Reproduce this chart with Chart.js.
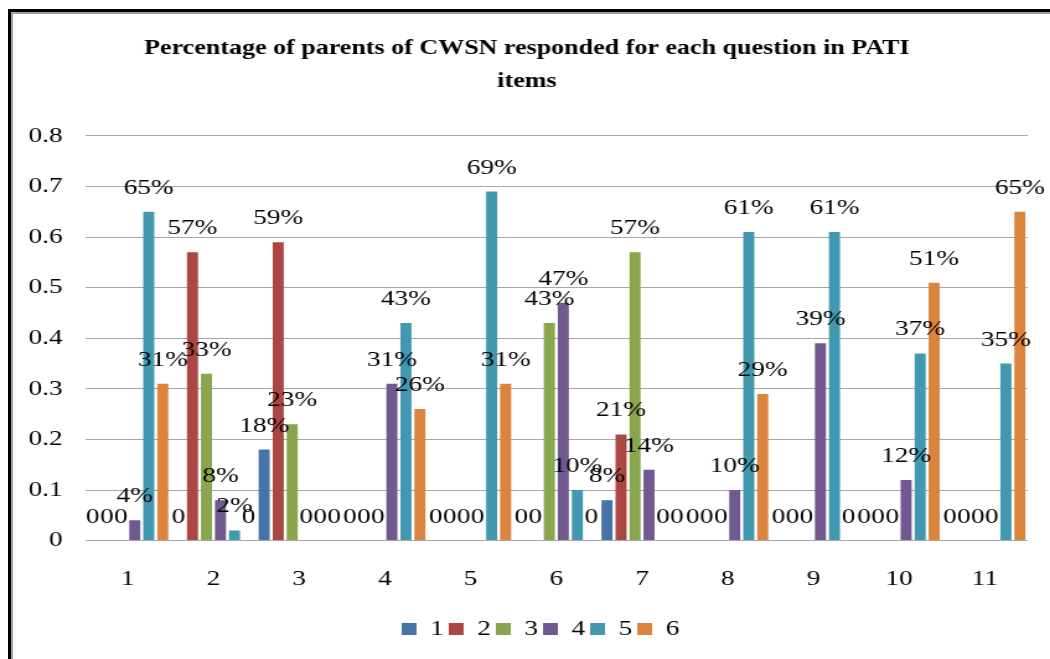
<!DOCTYPE html>
<html>
<head>
<meta charset="utf-8">
<script src="https://cdn.jsdelivr.net/npm/chart.js@4/dist/chart.umd.min.js"></script>
<style>
  html, body { margin: 0; background: #fff; overflow: hidden; }
  #frame { position: absolute; left: 8px; top: 9px; width: 1100px; height: 700px;
           border-top: 3px solid #000; border-left: 3px solid #000; }
  #frame div { width: 100%; height: 100%; box-sizing: border-box;
               border-top: 2px solid #a0a0a0; border-left: 2px solid #a0a0a0; }
  #wrap { position: absolute; left: 0; top: 0; width: 847px; height: 659px;
          transform: scaleX(1.2397); transform-origin: 0 0; }
</style>
</head>
<body>
<div id="frame"><div></div></div>
<div id="wrap"><canvas id="chart"></canvas></div>
<script>
// questions (PATI items) on the x axis
let categories = ["1", "2", "3", "4", "5", "6", "7", "8", "9", "10", "11"]

let option1 = [0, 0, 0.18, 0, 0, 0, 0.08, 0, 0, 0, 0]
let option2 = [0, 0.57, 0.59, 0, 0, 0, 0.21, 0, 0, 0, 0]
let option3 = [0, 0.33, 0.23, 0, 0, 0.43, 0.57, 0, 0, 0, 0]
let option4 = [0.04, 0.08, 0, 0.31, 0, 0.47, 0.14, 0.10, 0.39, 0.12, 0]
let option5 = [0.65, 0.02, 0, 0.43, 0.69, 0.10, 0, 0.61, 0.61, 0.37, 0.35]
let option6 = [0.31, 0, 0, 0.26, 0.31, 0, 0, 0.29, 0, 0.51, 0.65]

let seriesNames = ["1", "2", "3", "4", "5", "6"]
let colors = ["#4572A7", "#AA4643", "#89A54E", "#71588F", "#4198AF", "#DB843D"]
let yTickLabels = ["0", "0.1", "0.2", "0.3", "0.4", "0.5", "0.6", "0.7", "0.8"]

let serif = "'Liberation Serif', 'Times New Roman', serif"

// value labels above every bar ("0" for empty ones)
let barLabels = {
    id: "barLabels",
    afterDatasetsDraw(chart) {
        let ctx = chart.ctx
        ctx.save()
        ctx.font = "22px " + serif
        ctx.fillStyle = "#000"
        ctx.textAlign = "center"
        ctx.textBaseline = "alphabetic"
        chart.data.datasets.forEach((ds, i) => {
            chart.getDatasetMeta(i).data.forEach((bar, j) => {
                let v = ds.data[j]
                let txt = v === 0 ? "0" : Math.round(v * 100) + "%"
                ctx.fillText(txt, bar.x, bar.y - 18)
            })
        })
        ctx.restore()
    }
}

// nudge title and legend a bit right, like the original
let nudge = {
    id: "nudge",
    afterLayout(chart) {
        chart.legend.left += 19
        chart.legend.right += 19
        chart.titleBlock.left += 8
        chart.titleBlock.right += 8
    }
}

let allSeries = [option1, option2, option3, option4, option5, option6]

let config = {
    type: "bar",
    data: {
        labels: categories,
        datasets: allSeries.map((d, i) => ({
            label: seriesNames[i],
            data: d,
            backgroundColor: colors[i],
            categoryPercentage: 0.98,
            barPercentage: 0.79
        }))
    },
    options: {
        responsive: true,
        maintainAspectRatio: false,
        animation: false,
        layout: { padding: { left: 5, right: 18, top: 32, bottom: 9 } },
        plugins: {
            title: {
                display: true,
                text: ["Percentage of parents of CWSN responded for each question in PATI", "items"],
                color: "#000",
                font: { family: serif, size: 21, weight: "bold", lineHeight: 1.57 },
                padding: { top: 0, bottom: 38 }
            },
            legend: {
                position: "bottom",
                labels: {
                    color: "#000",
                    boxWidth: 12,
                    boxHeight: 12,
                    padding: 4,
                    font: { family: serif, size: 22 }
                }
            },
            tooltip: { enabled: false }
        },
        scales: {
            x: {
                grid: { display: false },
                border: { display: false },
                ticks: { color: "#000", padding: 17, font: { family: serif, size: 22 } },
                afterFit: (axis) => { axis.height += 5 }
            },
            y: {
                min: 0,
                max: 0.8,
                border: { display: false },
                grid: { color: "#a6a6a6", drawTicks: false },
                ticks: {
                    stepSize: 0.1,
                    padding: 18,
                    color: "#000",
                    font: { family: serif, size: 22 },
                    callback: (v, i) => yTickLabels[i]
                }
            }
        }
    },
    plugins: [barLabels, nudge]
}

const myChart = new Chart(document.querySelector("#chart"), config)
</script>
</body>
</html>
